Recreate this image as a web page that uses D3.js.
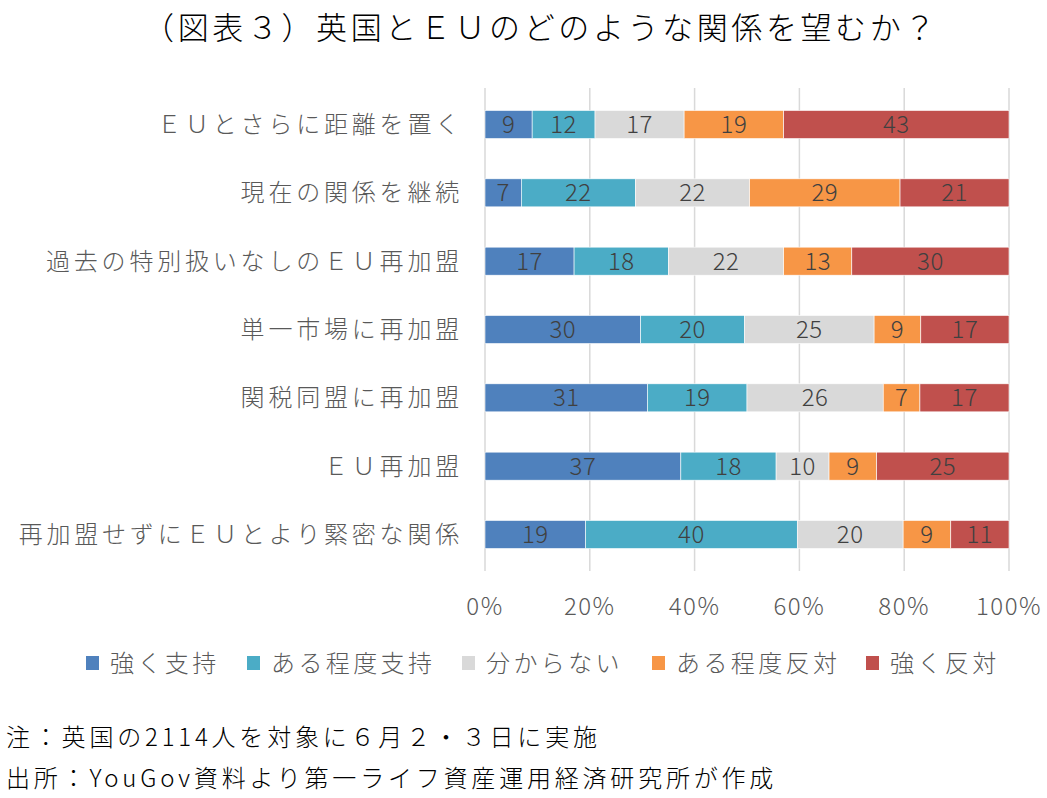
<!DOCTYPE html>
<html>
<head>
<meta charset="utf-8">
<script src="https://cdn.jsdelivr.net/npm/d3@7"></script>
<style>
  body { margin: 0; background: #fff; }
  text { font-family: "Noto Sans CJK JP", "Noto Sans", sans-serif; font-weight: 300; }
</style>
</head>
<body>
<div id="chart"></div>
<script>
const categories = [
  'ＥＵとさらに距離を置く',
  '現在の関係を継続',
  '過去の特別扱いなしのＥＵ再加盟',
  '単一市場に再加盟',
  '関税同盟に再加盟',
  'ＥＵ再加盟',
  '再加盟せずにＥＵとより緊密な関係'
]
const seriesNames = ['強く支持', 'ある程度支持', '分からない', 'ある程度反対', '強く反対']
const seriesColors = ['#4F81BD', '#4BACC6', '#D9D9D9', '#F79646', '#C0504D']
const strongSupport = [9, 7, 17, 30, 31, 37, 19]
const someSupport = [12, 22, 18, 20, 19, 18, 40]
const dontKnow = [17, 22, 22, 25, 26, 10, 20]
const someOppose = [19, 29, 13, 9, 7, 9, 9]
const strongOppose = [43, 21, 30, 17, 17, 25, 11]
const xTicks = [0, 20, 40, 60, 80, 100]

const width = 1047
const height = 798
const svg = d3.select('#chart').append('svg')
  .attr('width', width)
  .attr('height', height)

const seriesValues = [strongSupport, someSupport, dontKnow, someOppose, strongOppose]
const rows = categories.map((c, i) => {
  const vals = seriesValues.map(s => s[i])
  const total = d3.sum(vals)
  let acc = 0
  return {
    name: c,
    segs: vals.map((v, k) => {
      const seg = { k, v, x0: acc / total * 100, x1: (acc + v) / total * 100 }
      acc += v
      return seg
    })
  }
})

const x = d3.scaleLinear().domain([0, 100]).range([485, 1009])
const y = d3.scaleBand().domain(categories).range([90, 569]).paddingInner(0.59).paddingOuter(0.3)

svg.append('text')
  .attr('x', 541)
  .attr('y', 39)
  .attr('text-anchor', 'middle')
  .attr('font-size', 31)
  .attr('letter-spacing', 3.6)
  .attr('fill', '#000')
  .text('（図表３）英国とＥＵのどのような関係を望むか？')

// gridlines
svg.append('g')
  .selectAll('line')
  .data(xTicks)
  .enter().append('line')
  .attr('x1', d => x(d))
  .attr('x2', d => x(d))
  .attr('y1', 88)
  .attr('y2', 571)
  .attr('stroke', '#D9D9D9')
  .attr('stroke-width', 1.5)

svg.append('g')
  .selectAll('text')
  .data(xTicks)
  .enter().append('text')
  .attr('x', d => x(d))
  .attr('y', 615)
  .attr('text-anchor', 'middle')
  .attr('font-size', 24)
  .attr('letter-spacing', 1.5)
  .attr('fill', '#595959')
  .text(d => `${d}%`)

const rowG = svg.selectAll('.row')
  .data(rows)
  .enter().append('g')
  .attr('class', 'row')
  .attr('transform', d => `translate(0,${y(d.name)})`)

rowG.append('text')
  .attr('x', 463)
  .attr('y', y.bandwidth() / 2)
  .attr('dy', '0.36em')
  .attr('text-anchor', 'end')
  .attr('font-size', 24)
  .attr('letter-spacing', 3.8)
  .attr('fill', '#595959')
  .text(d => d.name)

rowG.selectAll('rect')
  .data(d => d.segs)
  .enter().append('rect')
  .attr('x', d => x(d.x0))
  .attr('width', d => x(d.x1) - x(d.x0))
  .attr('height', y.bandwidth())
  .attr('fill', d => seriesColors[d.k])
  .attr('stroke', '#fff')
  .attr('stroke-width', 0.6)

rowG.selectAll('.lbl')
  .data(d => d.segs)
  .enter().append('text')
  .attr('class', 'lbl')
  .attr('x', d => x((d.x0 + d.x1) / 2))
  .attr('y', y.bandwidth() / 2)
  .attr('dy', '0.36em')
  .attr('text-anchor', 'middle')
  .attr('font-size', 24)
  .attr('letter-spacing', 0.5)
  .attr('fill', '#404040')
  .text(d => d.v)

// legend
const legendX = [86, 247, 462, 652, 866]
const legend = svg.append('g')
seriesNames.forEach((n, i) => {
  legend.append('rect')
    .attr('x', legendX[i])
    .attr('y', 656)
    .attr('width', 13)
    .attr('height', 14)
    .attr('fill', seriesColors[i])
  legend.append('text')
    .attr('x', legendX[i] + 24)
    .attr('y', 663)
    .attr('dy', '0.36em')
    .attr('font-size', 24)
    .attr('letter-spacing', 3.4)
    .attr('fill', '#595959')
    .text(n)
})

svg.append('text')
  .attr('x', 6)
  .attr('y', 746)
  .attr('font-size', 24)
  .attr('letter-spacing', 3.8)
  .attr('fill', '#000')
  .text('注：英国の2114人を対象に６月２・３日に実施')

svg.append('text')
  .attr('x', 6)
  .attr('y', 787)
  .attr('font-size', 24)
  .attr('letter-spacing', 3.8)
  .attr('fill', '#000')
  .text('出所：YouGov資料より第一ライフ資産運用経済研究所が作成')
</script>
</body>
</html>
